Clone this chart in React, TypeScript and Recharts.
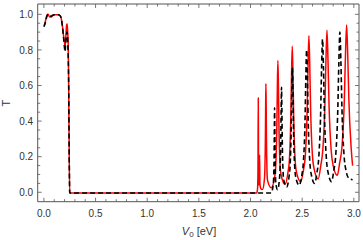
import React from "react";
import { LineChart, Line, XAxis, YAxis } from "recharts";

// ---- data ----
const redV = [
  0, 0.01, 0.02, 0.03, 0.04, 0.05, 0.06, 0.07, 0.08, 0.09, 0.1, 0.12, 0.14, 0.16, 0.17, 0.18, 0.19, 0.2, 0.205,
  0.21, 0.215, 0.22, 0.225, 0.23, 0.235, 0.24, 0.245, 0.25, 0.5, 1.0, 1.5, 2.0, 2.06,
  2.068, 2.072, 2.075, 2.078, 2.081, 2.085, 2.088, 2.091, 2.1, 2.115,
  2.134, 2.139, 2.144, 2.1465, 2.149, 2.1515, 2.154, 2.159, 2.164, 2.2,
  2.235, 2.245, 2.255, 2.26, 2.265, 2.27, 2.275, 2.285, 2.295, 2.335,
  2.362, 2.376, 2.39, 2.397, 2.404, 2.411, 2.418, 2.432, 2.446, 2.485,
  2.514, 2.531, 2.548, 2.5565, 2.565, 2.5735, 2.582, 2.599, 2.616, 2.655,
  2.68, 2.7, 2.72, 2.73, 2.74, 2.75, 2.76, 2.78, 2.8, 2.84,
  2.864, 2.886, 2.908, 2.919, 2.93, 2.941, 2.952, 2.974, 2.988,
];
const redT = [
  0.935, 0.95, 0.975, 0.995, 1.0, 0.99, 0.985, 0.985, 0.99, 0.995, 0.998, 0.998, 0.998, 0.99, 0.97, 0.93, 0.88, 0.84, 0.82,
  0.85, 0.9, 0.94, 0.945, 0.9, 0.84, 0.6, 0.2, -0.004, -0.004, -0.004, -0.004, -0.004, -0.004,
  0.02, 0.12, 0.53, 0.12, 0.04, 0.08, 0.21, 0.05, 0.02, 0.015,
  0.07, 0.13, 0.31, 0.49, 0.61, 0.49, 0.31, 0.13, 0.07, 0.025,
  0.09, 0.16, 0.38, 0.6, 0.74, 0.6, 0.38, 0.165, 0.1, 0.045,
  0.11, 0.18, 0.42, 0.66, 0.82, 0.66, 0.42, 0.18, 0.11, 0.06,
  0.13, 0.21, 0.46, 0.71, 0.88, 0.71, 0.46, 0.21, 0.13, 0.075,
  0.15, 0.24, 0.49, 0.74, 0.91, 0.74, 0.49, 0.24, 0.15, 0.095,
  0.17, 0.26, 0.52, 0.77, 0.94, 0.77, 0.52, 0.25, 0.15,
];
const blackV = [
  0, 0.01, 0.02, 0.03, 0.04, 0.05, 0.06, 0.07, 0.08, 0.1, 0.14, 0.16, 0.17, 0.18, 0.19, 0.2, 0.205,
  0.21, 0.22, 0.225, 0.23, 0.24, 0.245, 0.25, 0.5, 1.0, 1.5, 2.0, 2.2,
  2.221, 2.225, 2.229, 2.231, 2.233, 2.235, 2.237, 2.241, 2.245, 2.262,
  2.279, 2.286, 2.293, 2.2965, 2.3, 2.3035, 2.307, 2.314, 2.321, 2.35,
  2.372, 2.383, 2.394, 2.3995, 2.405, 2.4105, 2.416, 2.427, 2.438, 2.47,
  2.498, 2.513, 2.528, 2.5355, 2.543, 2.5505, 2.558, 2.573, 2.588, 2.62,
  2.643, 2.661, 2.679, 2.688, 2.697, 2.706, 2.715, 2.733, 2.751, 2.785,
  2.805, 2.825, 2.845, 2.855, 2.865, 2.875, 2.885, 2.905, 2.925, 2.95, 2.988,
];
const blackT = [
  0.93, 0.945, 0.97, 0.99, 1.0, 0.995, 0.99, 0.99, 0.993, 0.998, 0.998, 0.99, 0.97, 0.93, 0.87, 0.81, 0.79,
  0.83, 0.89, 0.9, 0.86, 0.6, 0.2, -0.004, -0.004, -0.004, -0.004, -0.004, -0.004,
  0.05, 0.1, 0.24, 0.38, 0.475, 0.38, 0.24, 0.1, 0.05, 0.015,
  0.07, 0.13, 0.3, 0.47, 0.59, 0.47, 0.3, 0.13, 0.07, 0.03,
  0.085, 0.15, 0.36, 0.57, 0.7, 0.57, 0.36, 0.15, 0.085, 0.04,
  0.1, 0.18, 0.41, 0.65, 0.8, 0.65, 0.41, 0.18, 0.1, 0.05,
  0.11, 0.2, 0.45, 0.7, 0.86, 0.7, 0.45, 0.2, 0.11, 0.06,
  0.12, 0.21, 0.47, 0.73, 0.9, 0.73, 0.47, 0.21, 0.12, 0.08, 0.07,
];

const xMajorTicks = [0, 0.5, 1, 1.5, 2, 2.5, 3];
const xMinorTicks = [0.1, 0.2, 0.3, 0.4, 0.6, 0.7, 0.8, 0.9, 1.1, 1.2, 1.3, 1.4, 1.6, 1.7, 1.8, 1.9, 2.1, 2.2, 2.3, 2.4, 2.6, 2.7, 2.8, 2.9];
const yMajorTicks = [0, 0.2, 0.4, 0.6, 0.8, 1.0];
const yMinorTicks = [0.05, 0.1, 0.15, 0.25, 0.3, 0.35, 0.45, 0.5, 0.55, 0.65, 0.7, 0.75, 0.85, 0.9, 0.95];

const redData = redV.map((v, i) => ({ v, t: redT[i] }));
const blackData = blackV.map((v, i) => ({ v, t: blackT[i] }));
const xTicks = [...xMajorTicks, ...xMinorTicks].sort((a, b) => a - b);
const yTicks = [...yMajorTicks, ...yMinorTicks].sort((a, b) => a - b);
const isMajor = (arr: number[], v: number) => arr.some((m) => Math.abs(m - v) < 1e-9);

const FRAME = "#555";
const TEXT = "#333";
const FONT = "'Liberation Sans', Arial, sans-serif";
const MAJ = 4;
const MIN = 2.5;

const BottomTick = (p: any) => {
  const major = isMajor(xMajorTicks, p.payload.value);
  return (
    <g>
      <line x1={p.x} x2={p.x} y1={p.y} y2={p.y - (major ? MAJ : MIN)} stroke={FRAME} strokeWidth={0.8} />
      {major && (
        <text x={p.x} y={p.y + 15} textAnchor="middle" fontSize={10} fill={TEXT} fontFamily={FONT}>
          {p.payload.value.toFixed(1)}
        </text>
      )}
    </g>
  );
};
const TopTick = (p: any) => {
  const major = isMajor(xMajorTicks, p.payload.value);
  return <line x1={p.x} x2={p.x} y1={p.y} y2={p.y + (major ? MAJ : MIN)} stroke={FRAME} strokeWidth={0.8} />;
};
const LeftTick = (p: any) => {
  const major = isMajor(yMajorTicks, p.payload.value);
  return (
    <g>
      <line x1={p.x} x2={p.x + (major ? MAJ : MIN)} y1={p.y} y2={p.y} stroke={FRAME} strokeWidth={0.8} />
      {major && (
        <text x={p.x - 4.5} y={p.y + 3.6} textAnchor="end" fontSize={10} fill={TEXT} fontFamily={FONT}>
          {p.payload.value.toFixed(1)}
        </text>
      )}
    </g>
  );
};
const RightTick = (p: any) => {
  const major = isMajor(yMajorTicks, p.payload.value);
  return <line x1={p.x} x2={p.x - (major ? MAJ : MIN)} y1={p.y} y2={p.y} stroke={FRAME} strokeWidth={0.8} />;
};

const X_DOMAIN: [number, number] = [-0.06, 3.05];
const Y_DOMAIN: [number, number] = [-0.053, 1.058];

export default function App() {
  return (
    <div style={{ position: "absolute", left: 0, top: 0, width: 363, height: 240, background: "#fff" }}>
      <LineChart width={363} height={240} margin={{ top: 0, right: 0, bottom: 0, left: 0 }}>
        <XAxis
          xAxisId="top"
          orientation="top"
          type="number"
          dataKey="v"
          domain={X_DOMAIN}
          allowDataOverflow
          ticks={xTicks}
          interval={0}
          height={4}
          tickSize={0}
          tickMargin={0}
          tickLine={false}
          axisLine={{ stroke: FRAME, strokeWidth: 1 }}
          tick={TopTick}
        />
        <XAxis
          xAxisId="b"
          orientation="bottom"
          type="number"
          dataKey="v"
          domain={X_DOMAIN}
          allowDataOverflow
          ticks={xTicks}
          interval={0}
          height={38.3}
          tickSize={0}
          tickMargin={0}
          tickLine={false}
          axisLine={{ stroke: FRAME, strokeWidth: 1 }}
          tick={BottomTick}
        />
        <YAxis
          yAxisId="l"
          orientation="left"
          type="number"
          domain={Y_DOMAIN}
          allowDataOverflow
          ticks={yTicks}
          interval={0}
          width={37.7}
          tickSize={0}
          tickMargin={0}
          tickLine={false}
          axisLine={{ stroke: FRAME, strokeWidth: 1 }}
          tick={LeftTick}
        />
        <YAxis
          yAxisId="r"
          orientation="right"
          type="number"
          domain={Y_DOMAIN}
          allowDataOverflow
          ticks={yTicks}
          interval={0}
          width={4}
          tickSize={0}
          tickMargin={0}
          tickLine={false}
          axisLine={{ stroke: FRAME, strokeWidth: 1 }}
          tick={RightTick}
        />
        <Line
          xAxisId="b"
          yAxisId="l"
          data={redData}
          dataKey="t"
          type="monotone"
          stroke="#ff0000"
          strokeWidth={1.5}
          dot={false}
          isAnimationActive={false}
        />
        <Line
          xAxisId="b"
          yAxisId="l"
          data={blackData}
          dataKey="t"
          type="monotone"
          stroke="#000"
          strokeWidth={1.6}
          strokeDasharray="5 3"
          dot={false}
          isAnimationActive={false}
        />
      </LineChart>
      <svg width={363} height={240} style={{ position: "absolute", left: 0, top: 0, pointerEvents: "none" }}>
        <text x={199} y={234.5} textAnchor="middle" fontSize={11} fill={TEXT} fontFamily={FONT}>
          <tspan fontStyle="italic">V</tspan>
          <tspan fontSize={8} dy={2.5}>0</tspan>
          <tspan dy={-2.5}> [eV]</tspan>
        </text>
        <text x={10} y={103} transform="rotate(-90 10 103)" textAnchor="middle" fontSize={11} fill={TEXT} fontFamily={FONT}>
          T
        </text>
      </svg>
    </div>
  );
}
